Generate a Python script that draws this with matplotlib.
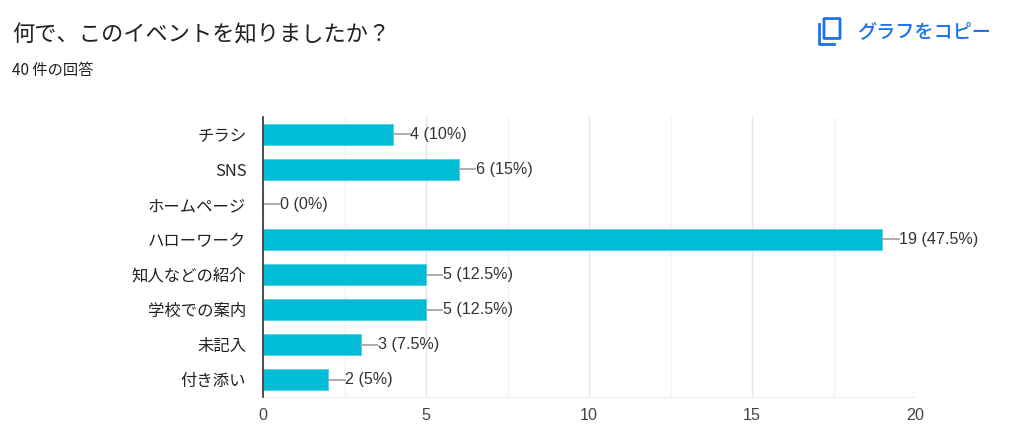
import matplotlib
matplotlib.use("Agg")
import matplotlib.pyplot as plt
from matplotlib.patches import FancyBboxPatch
from matplotlib.lines import Line2D
from matplotlib.ticker import MultipleLocator

plt.rcParams["font.family"] = ["Liberation Sans", "Noto Sans CJK JP", "DejaVu Sans"]
CJK = ["Noto Sans CJK JP", "DejaVu Sans"]

categories = ["チラシ", "SNS", "ホームページ", "ハローワーク",
              "知人などの紹介", "学校での案内", "未記入", "付き添い"]
counts = [4, 6, 0, 19, 5, 5, 3, 2]
labels = ["4 (10%)", "6 (15%)", "0 (0%)", "19 (47.5%)",
          "5 (12.5%)", "5 (12.5%)", "3 (7.5%)", "2 (5%)"]
x_ticks = [0, 5, 10, 15, 20]

TITLE = "何で、このイベントを知りましたか？"
SUBTITLE = "40 件の回答"
BAR = "#00bcd4"
BLUE = "#1a73e8"
W, H = 1024, 444

fig = plt.figure(figsize=(W / 100, H / 100), dpi=100)
ax = fig.add_axes([263 / W, 1 - 397 / H, (915 - 263) / W, (397 - 117) / H])

y = list(range(len(categories)))
ax.barh(y, counts, height=0.6, color=BAR, edgecolor="#4dd0e1", lw=0.6, zorder=3)
for yi, v, lab in zip(y, counts, labels):
    ax.plot([v, v + 0.5], [yi, yi], color="#9e9e9e", lw=1.2, zorder=3)
    ax.text(v + 0.52, yi, lab, va="center", ha="left", fontsize=11.6, color="#333333")

ax.set_xlim(0, 20)
ax.set_ylim(len(categories) - 0.5, -0.5)
ax.set_yticks(y)
ax.set_yticklabels(categories, fontsize=11.8, color="#222222", family=CJK)
ax.xaxis.set_minor_locator(MultipleLocator(2.5))
ax.set_xticks(x_ticks)
ax.set_xticklabels([str(t) for t in x_ticks], fontsize=11.6, color="#444444")
ax.tick_params(axis="y", which="both", length=0, pad=12)
ax.tick_params(axis="x", which="both", length=0, pad=8)
ax.grid(True, axis="x", which="major", color="#e6e6e6", lw=1.0, zorder=0)
ax.grid(True, axis="x", which="minor", color="#f3f3f3", lw=1.0, zorder=0)
for s in ["top", "right"]:
    ax.spines[s].set_visible(False)
ax.spines["bottom"].set_color("#eeeeee")
ax.spines["left"].set_color("#333333")
ax.spines["left"].set_linewidth(1.2)
ax.spines["left"].set_zorder(4)

fig.text(12 / W, 1 - 35 / H, TITLE, fontsize=16, color="#202124", va="center", family=CJK)
fig.text(12 / W, 1 - 71 / H, SUBTITLE, fontsize=11, color="#202124", va="center", family=CJK)
fig.text(857 / W, 1 - 31 / H, "グラフをコピー", fontsize=13.8, color=BLUE,
         va="center", family=CJK, fontweight="medium")

# copy icon
fig.patches.append(FancyBboxPatch((825 / W, 1 - 38 / H), 14 / W, 19 / H,
                                  boxstyle="round,pad=0.001", fill=False,
                                  ec=BLUE, lw=2.0, transform=fig.transFigure))
fig.lines.append(Line2D([819 / W, 819 / W, 834 / W],
                        [1 - 24 / H, 1 - 44 / H, 1 - 44 / H],
                        color=BLUE, lw=2.0, transform=fig.transFigure))

fig.savefig("out.png", dpi=100)
